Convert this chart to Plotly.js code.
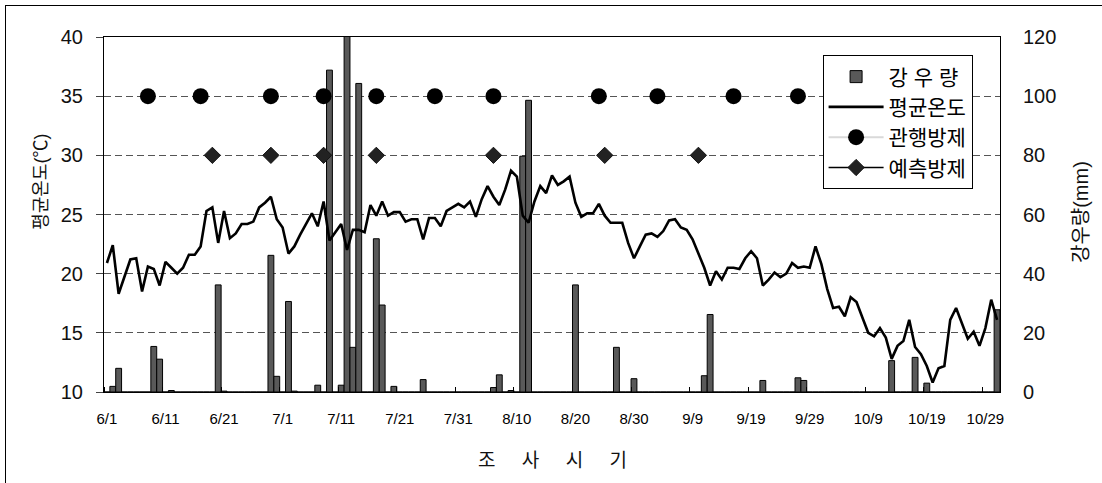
<!DOCTYPE html>
<html>
<head>
<meta charset="utf-8">
<script src="https://cdn.plot.ly/plotly-3.0.1.min.js"></script>
<style>
  html, body { margin: 0; padding: 0; background: #fff; }
  #wrap { position: relative; width: 1102px; height: 483px; overflow: hidden; }
  #chart { width: 1102px; height: 483px; }
  #frame { position: absolute; left: 5px; top: 5px; width: 1200px; height: 600px;
           border-left: 1px solid #000; border-top: 1px solid #000; pointer-events: none; }
</style>
</head>
<body>
<div id="wrap"><div id="chart"></div><div id="frame"></div></div>
<script>
// ---- categories: daily survey dates 6/1 .. 10/31 ----
const monthDays = [[6, 30], [7, 31], [8, 31], [9, 30], [10, 31]];
const dates = [];
monthDays.forEach(([m, n]) => { for (let d = 1; d <= n; d++) dates.push(m + '/' + d); });

// ---- tick labels on the category axis ----
const tickLabels = ['6/1','6/11','6/21','7/1','7/11','7/21','7/31','8/10','8/20','8/30','9/9','9/19','9/29','10/9','10/19','10/29'];

// ---- mean temperature (°C), one value per day ----
const temperature = [
  20.9, 22.4, 18.3, 19.8, 21.2, 21.3, 18.5, 20.6, 20.4, 19.0,
  21.0, 20.5, 20.0, 20.5, 21.6, 21.6, 22.3, 25.3, 25.6, 22.6,
  25.3, 23.0, 23.4, 24.2, 24.2, 24.4, 25.6, 26.0, 26.5, 24.6,
  23.9, 21.7, 22.3, 23.3, 24.2, 25.1, 24.0, 26.1, 22.8, 23.5,
  24.2, 22.0, 23.7, 23.7, 23.5, 25.8, 24.9, 26.1, 24.9, 25.2,
  25.2, 24.4, 24.6, 24.6, 22.9, 24.7, 24.7, 24.0, 25.3, 25.6,
  25.9, 25.6, 26.1, 24.8, 26.3, 27.4, 26.5, 25.8, 27.1, 28.7,
  28.2, 24.9, 24.3, 26.1, 27.4, 26.8, 28.3, 27.5, 27.8, 28.2,
  26.0, 24.8, 25.1, 25.1, 25.9, 24.9, 24.3, 24.3, 24.3, 22.6,
  21.3, 22.3, 23.3, 23.4, 23.1, 23.6, 24.5, 24.6, 23.9, 23.7,
  22.9, 21.7, 20.5, 19.0, 20.2, 19.5, 20.5, 20.5, 20.4, 21.3,
  21.9, 21.3, 19.0, 19.5, 20.1, 19.7, 20.0, 20.9, 20.5, 20.6,
  20.5, 22.3, 20.8, 18.7, 17.1, 17.2, 16.4, 18.0, 17.6, 16.3,
  15.0, 14.7, 15.4, 14.6, 12.8, 13.9, 14.3, 16.1, 13.8, 13.2,
  12.2, 10.8, 12.0, 12.2, 16.1, 17.1, 15.8, 14.5, 15.1, 13.9,
  15.4, 17.8, 16.1
];

// ---- rainfall (mm), one value per day ----
const rainfall = [
  0, 1.9, 8.0, 0, 0, 0, 0, 0, 15.4, 11.1,
  0, 0.5, 0, 0, 0, 0, 0, 0, 0, 36.2,
  0.3, 0, 0, 0, 0, 0, 0, 0, 46.2, 5.3,
  0, 30.6, 0.3, 0, 0, 0, 2.3, 0, 108.8, 0,
  2.3, 122, 15.1, 104.3, 0, 0, 51.8, 29.4, 0, 1.9,
  0, 0, 0, 0, 4.2, 0, 0, 0, 0, 0,
  0, 0, 0, 0, 0, 0, 1.5, 5.8, 0, 0.5,
  0, 79.7, 98.6, 0, 0, 0, 0, 0, 0, 0,
  36.2, 0, 0, 0, 0, 0, 0, 15.1, 0, 0,
  4.5, 0, 0, 0, 0, 0, 0, 0, 0, 0,
  0, 0, 5.5, 26.2, 0, 0, 0, 0, 0, 0,
  0, 0, 3.9, 0, 0, 0, 0, 0, 4.8, 3.9,
  0, 0, 0, 0, 0, 0, 0, 0, 0, 0,
  0, 0, 0, 0, 10.6, 0, 0, 0, 11.7, 0,
  3.0, 0, 0, 0, 0, 0, 0, 0, 0, 0,
  0, 0, 27.8
];

// ---- spray dates (plotted on the temperature axis) ----
const conventionalDates = ['6/8','6/17','6/29','7/8','7/17','7/27','8/6','8/24','9/3','9/16','9/27'];
const conventionalLevel = [35, 35, 35, 35, 35, 35, 35, 35, 35, 35, 35];
const forecastDates = ['6/19','6/29','7/8','7/17','8/6','8/25','9/10'];
const forecastLevel = [30, 30, 30, 30, 30, 30, 30];

// ---- build traces ----
const xIdx = dates.map((d, i) => i);
const tickIdx = tickLabels.map(t => dates.indexOf(t));
const boundaryIdx = tickIdx.map(i => i - 0.5);

function spread(ds, vals) {
  const y = dates.map(() => null);
  ds.forEach((d, k) => { y[dates.indexOf(d)] = vals[k]; });
  return y;
}

const FONT = 'Liberation Sans, Arial, "Noto Sans CJK KR", sans-serif';

const traces = [
  {
    type: 'bar', name: '강 우 량', x: xIdx, y: rainfall,
    xaxis: 'x', yaxis: 'y',
    marker: { color: '#595959', line: { color: '#000', width: 1 } },
    cliponaxis: false, hoverinfo: 'skip'
  },
  {
    type: 'scatter', mode: 'lines', name: '평균온도', x: xIdx, y: temperature,
    xaxis: 'x', yaxis: 'y2',
    line: { color: '#000', width: 2.6 }, hoverinfo: 'skip'
  },
  {
    type: 'scatter', mode: 'lines+markers', name: '관행방제', x: xIdx,
    y: spread(conventionalDates, conventionalLevel), connectgaps: false,
    xaxis: 'x', yaxis: 'y2',
    line: { color: '#d9d9d9', width: 2 },
    marker: { symbol: 'circle', size: 16, color: '#000' }, hoverinfo: 'skip'
  },
  {
    type: 'scatter', mode: 'lines+markers', name: '예측방제', x: xIdx,
    y: spread(forecastDates, forecastLevel), connectgaps: false,
    xaxis: 'x', yaxis: 'y2',
    line: { color: '#000', width: 1.5 },
    marker: { symbol: 'diamond', size: 12.5, color: '#222', line: { color: '#111', width: 1 } },
    hoverinfo: 'skip'
  }
];

const layout = {
  width: 1102, height: 483,
  margin: { l: 104, r: 102, t: 37, b: 91, pad: 0 },
  paper_bgcolor: '#fff', plot_bgcolor: '#fff',
  font: { family: FONT, color: '#000' },
  bargap: 0,
  showlegend: true,
  legend: {
    x: 0.802, y: 0.948, xanchor: 'left', yanchor: 'top',
    bgcolor: '#fff', bordercolor: '#000', borderwidth: 1,
    font: { family: FONT, size: 21, color: '#000' },
    itemwidth: 55, tracegroupgap: 0
  },
  xaxis: {
    type: 'linear', range: [-0.5, dates.length - 0.5],
    tickmode: 'array', tickvals: tickIdx, ticktext: tickLabels,
    ticks: '', tickfont: { size: 15, family: FONT }, ticklabelstandoff: 13,
    minor: { tickmode: 'array', tickvals: boundaryIdx, ticks: 'inside', ticklen: 5, tickcolor: '#000', showgrid: false },
    showgrid: false, zeroline: false,
    showline: true, linecolor: '#000', linewidth: 1, mirror: true,
    fixedrange: true
  },
  yaxis: {
    side: 'right', range: [0, 120], tickmode: 'linear', tick0: 0, dtick: 20,
    showgrid: false, zeroline: false, showline: true, linecolor: '#000', linewidth: 1,
    ticks: '', tickfont: { size: 20, family: FONT, color: '#111' }, ticklabelstandoff: 18,
    fixedrange: true
  },
  yaxis2: {
    overlaying: 'y', side: 'left', range: [10, 40], tickmode: 'linear', tick0: 10, dtick: 5,
    showgrid: true, gridcolor: '#555', gridwidth: 1, griddash: '7px,4px',
    zeroline: false, showline: true, linecolor: '#000', linewidth: 1,
    ticks: 'outside', ticklen: 7, tickcolor: '#444',
    tickfont: { size: 20, family: FONT, color: '#111' }, ticklabelstandoff: 9,
    fixedrange: true
  },
  annotations: [
    { text: '평균온도(℃)', xref: 'paper', yref: 'paper', x: -0.0705, y: 0.5915,
      xanchor: 'center', yanchor: 'middle', textangle: -90, showarrow: false,
      font: { family: FONT, size: 18, color: '#111' } },
    { text: '강우량(mm)', xref: 'paper', yref: 'paper', x: 1.0904, y: 0.507,
      xanchor: 'center', yanchor: 'middle', textangle: -90, showarrow: false,
      font: { family: FONT, size: 20, color: '#111' } },
    { text: '조\u00a0\u00a0\u00a0\u00a0\u00a0사\u00a0\u00a0\u00a0\u00a0\u00a0시\u00a0\u00a0\u00a0\u00a0\u00a0기',
      xref: 'paper', yref: 'paper', x: 0.5, y: -0.194,
      xanchor: 'center', yanchor: 'middle', showarrow: false,
      font: { family: FONT, size: 19, color: '#111' } }
  ]
};

Plotly.newPlot('chart', traces, layout, { staticPlot: true, displayModeBar: false });
</script>
</body>
</html>
